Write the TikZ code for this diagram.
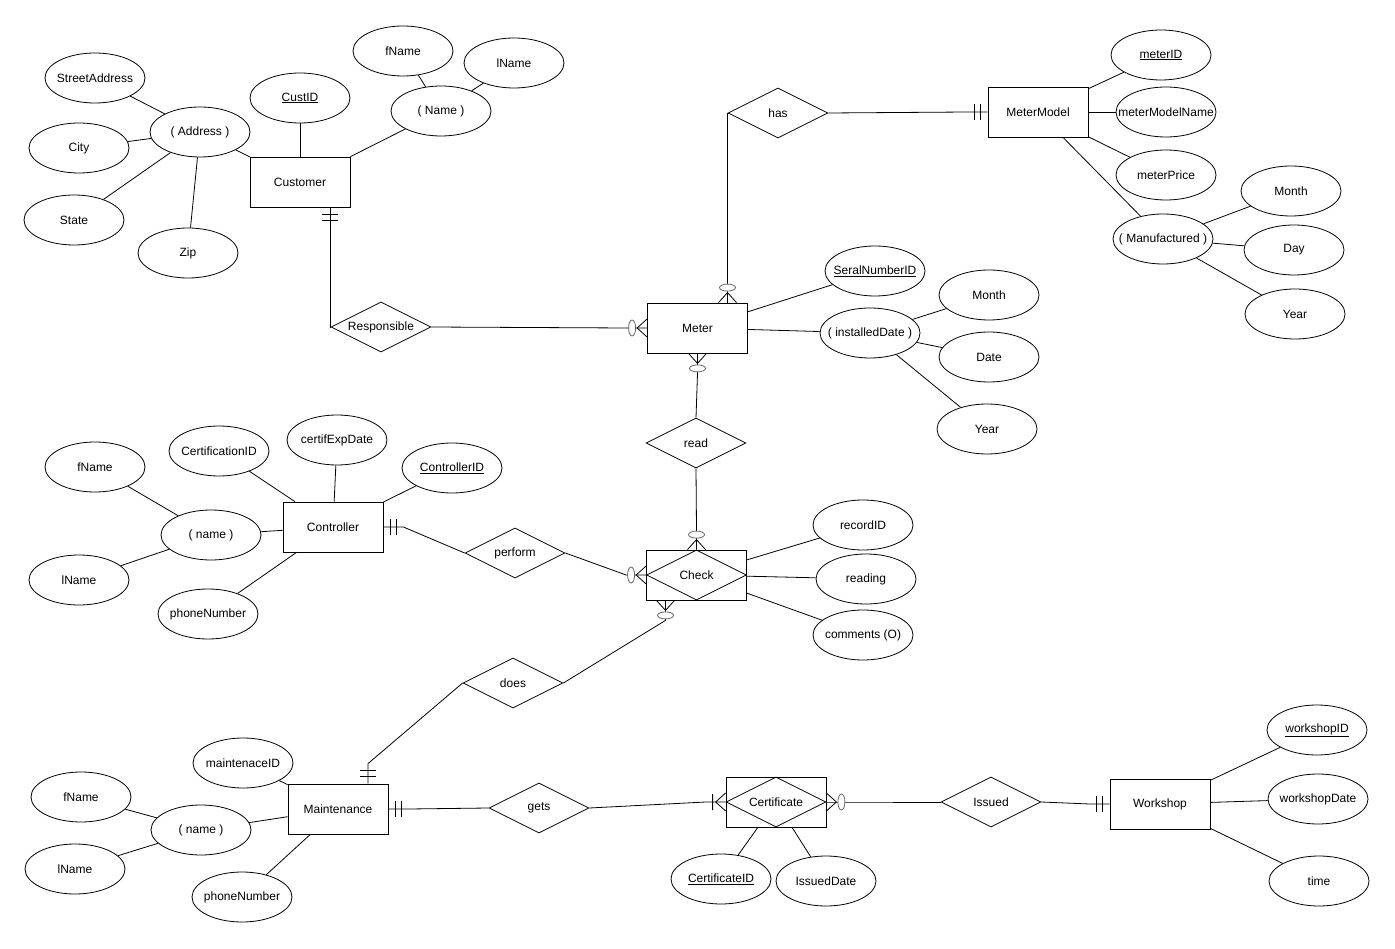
\documentclass[tikz,border=0pt]{standalone}
\usepackage{fontspec}
\setmainfont{Liberation Sans}
\usetikzlibrary{shapes.geometric,calc}
\newcommand\zt[1]{\makebox[0pt]{#1}}
\newcommand\mkZeroMany[2]{\begin{scope}[shift={(#1)},rotate=#2]
 \draw (0,9) -- (10,0) -- (0,-9);
 \draw[draw=black!60, fill=white] (15,0) ellipse [x radius=3.5, y radius=8];
\end{scope}}
\newcommand\mkOneOnly[2]{\begin{scope}[shift={(#1)},rotate=#2]
 \draw (7,8) -- (7,-8) (13,8) -- (13,-8);
\end{scope}}
\newcommand\mkOneMany[2]{\begin{scope}[shift={(#1)},rotate=#2]
 \draw (0,9) -- (10,0) -- (0,-9) (13,8) -- (13,-8);
\end{scope}}
\begin{document}
\begin{tikzpicture}[x=1pt,y=-1pt,line width=0.8pt,
 txt/.style={font=\fontsize{12}{14}\selectfont},
 ent/.style={txt,draw,rectangle,minimum width=100pt,minimum height=50pt,inner sep=0pt},
 rel/.style={txt,draw,diamond,aspect=2,minimum width=100pt,minimum height=50pt,inner sep=0pt},
 attr/.style={txt,draw,ellipse,minimum width=100pt,minimum height=50pt,inner sep=0pt}]
\useasboundingbox[fill=white] (0,0) rectangle (1395,949);

% entities
\node[ent] (cust) at (300,182) {Customer};
\node[ent] (meter) at (697.5,328) {Meter};
\node[ent] (mm) at (1038,112) {MeterModel};
\node[ent] (ctrl) at (333,527) {Controller};
\node[ent] (check) at (696.5,575) {};
\node[rel] (checkd) at (check) {Check};
\node[ent] (maint) at (338,809) {Maintenance};
\node[ent] (cert) at (776,802) {};
\node[rel] (certd) at (cert) {Certificate};
\node[ent] (ws) at (1160,804) {Workshop};

% relationships
\node[rel] (has) at (778,113) {has};
\node[rel] (resp) at (381,327) {Responsible};
\node[rel] (read) at (696,443) {read};
\node[rel] (perform) at (515,553) {perform};
\node[rel] (does) at (513,683) {does};
\node[rel] (gets) at (539,808) {gets};
\node[rel] (issued) at (991,802) {Issued};

% attributes: Customer
\node[attr] (street) at (95,78) {\zt{StreetAddress}};
\node[attr] (addr) at (200,132) {\zt{( Address )}};
\node[attr] (city) at (79,148) {\zt{City}};
\node[attr] (state) at (74,220) {\zt{State}};
\node[attr] (zip) at (188,253) {\zt{Zip}};
\node[attr] (custid) at (300,98) {\zt{\underline{CustID}}};
\node[attr] (fname1) at (403,51) {\zt{fName}};
\node[attr] (lname1) at (514,63) {\zt{lName}};
\node[attr] (name1) at (441,111) {\zt{( Name )}};
% MeterModel
\node[attr] (meterid) at (1161,55) {\zt{\underline{meterID}}};
\node[attr] (mmname) at (1166,112) {\zt{meterModelName}};
\node[attr] (mprice) at (1166,175) {\zt{meterPrice}};
\node[attr] (manuf) at (1163,239) {\zt{( Manufactured )}};
\node[attr] (month1) at (1291,191) {\zt{Month}};
\node[attr] (day1) at (1294,250) {\zt{Day}};
\node[attr] (year1) at (1295,314) {\zt{Year}};
% Meter
\node[attr] (serial) at (875,271) {\zt{\underline{SeralNumberID}}};
\node[attr] (instdate) at (870,333) {\zt{( installedDate )}};
\node[attr] (month2) at (989,295) {\zt{Month}};
\node[attr] (date2) at (989,357) {\zt{Date}};
\node[attr] (year2) at (987,429) {\zt{Year}};
% Controller
\node[attr] (certifid) at (219,451) {\zt{CertificationID}};
\node[attr] (certexp) at (337,440) {\zt{certifExpDate}};
\node[attr] (ctrlid) at (452,468) {\zt{\underline{ControllerID}}};
\node[attr] (fname2) at (95,467) {\zt{fName}};
\node[attr] (name2) at (211,535) {\zt{( name )}};
\node[attr] (lname2) at (79,580) {\zt{lName}};
\node[attr] (phone2) at (208,614) {\zt{phoneNumber}};
% Check
\node[attr] (recid) at (863,525) {\zt{recordID}};
\node[attr] (reading) at (866,579) {\zt{reading}};
\node[attr] (comments) at (863,635) {\zt{comments (O)}};
% Maintenance
\node[attr] (mid) at (243,763) {\zt{maintenaceID}};
\node[attr] (fname3) at (81,797) {\zt{fName}};
\node[attr] (name3) at (201,830) {\zt{( name )}};
\node[attr] (lname3) at (75,869) {\zt{lName}};
\node[attr] (phone3) at (242,897) {\zt{phoneNumber}};
% Certificate
\node[attr] (certificateid) at (721,879) {\zt{\underline{CertificateID}}};
\node[attr] (issueddate) at (826,881) {\zt{IssuedDate}};
% Workshop
\node[attr] (wsid) at (1317,730) {\zt{\underline{workshopID}}};
\node[attr] (wsdate) at (1318,799) {\zt{workshopDate}};
\node[attr] (time) at (1319,881) {\zt{time}};

% attribute lines
\draw (street) -- (addr); \draw (city) -- (addr); \draw (state) -- (addr);
\draw (zip) -- (addr); \draw (addr) -- (cust); \draw (custid) -- (cust);
\draw (fname1) -- (name1); \draw (lname1) -- (name1); \draw (name1) -- (cust);
\draw (meterid) -- (mm); \draw (mmname) -- (mm); \draw (mprice) -- (mm); \draw (manuf) -- (mm);
\draw (month1) -- (manuf); \draw (day1) -- (manuf); \draw (year1) -- (manuf);
\draw (serial) -- (meter); \draw (instdate) -- (meter);
\draw (month2) -- (instdate); \draw (date2) -- (instdate); \draw (year2) -- (instdate);
\draw (certifid) -- (ctrl); \draw (certexp) -- (ctrl); \draw (ctrlid) -- (ctrl);
\draw (name2) -- (ctrl); \draw (fname2) -- (name2); \draw (lname2) -- (name2); \draw (phone2) -- (ctrl);
\draw (recid) -- (check); \draw (reading) -- (check); \draw (comments) -- (check);
\draw (mid) -- (maint); \draw (name3) -- (maint); \draw (fname3) -- (name3); \draw (lname3) -- (name3); \draw (phone3) -- (maint);
\draw (certificateid) -- (cert); \draw (issueddate) -- (cert);
\draw (wsid) -- (ws); \draw (wsdate) -- (ws); \draw (time) -- (ws);

% relationship connectors
\coordinate (custb) at ($(cust.south)+(30,0)$);
\coordinate (metert) at ($(meter.north)+(30,0)$);
\coordinate (checkb) at ($(check.south)+(-31,0)$);
\coordinate (maintt) at ($(maint.north)+(30,0)$);

\draw (custb) |- (resp.west);
\mkOneOnly{custb}{-90}
\draw (resp.east) -- ($(meter.west)+(-20,0)$) -- (meter.west);
\mkZeroMany{meter.west}{180}
\draw (metert) |- (has.west);
\mkZeroMany{metert}{90}
\draw (has.east) -- ($(mm.west)+(-20,0)$) -- (mm.west);
\mkOneOnly{mm.west}{180}
\draw (meter.south) -- ++(0,20) -- (read.north);
\mkZeroMany{meter.south}{-90}
\draw (read.south) -- ($(check.north)+(0,-20)$) -- (check.north);
\mkZeroMany{check.north}{90}
\draw (ctrl.east) -- ++(20,0) -- (perform.west);
\mkOneOnly{ctrl.east}{0}
\draw (perform.east) -- ($(check.west)+(-20,0)$) -- (check.west);
\mkZeroMany{check.west}{180}
\draw (checkb) -- ++(0,20) -- (does.east);
\mkZeroMany{checkb}{-90}
\draw (does.west) -- ($(maintt)+(0,-20)$) -- (maintt);
\mkOneOnly{maintt}{90}
\draw (maint.east) -- ++(20,0) -- (gets.west);
\mkOneOnly{maint.east}{0}
\draw (gets.east) -- ($(cert.west)+(-20,0)$) -- (cert.west);
\mkOneMany{cert.west}{180}
\draw (cert.east) -- ++(20,0) -- (issued.west);
\mkZeroMany{cert.east}{0}
\draw (issued.east) -- ($(ws.west)+(-20,0)$) -- (ws.west);
\mkOneOnly{ws.west}{180}
\end{tikzpicture}
\end{document}
